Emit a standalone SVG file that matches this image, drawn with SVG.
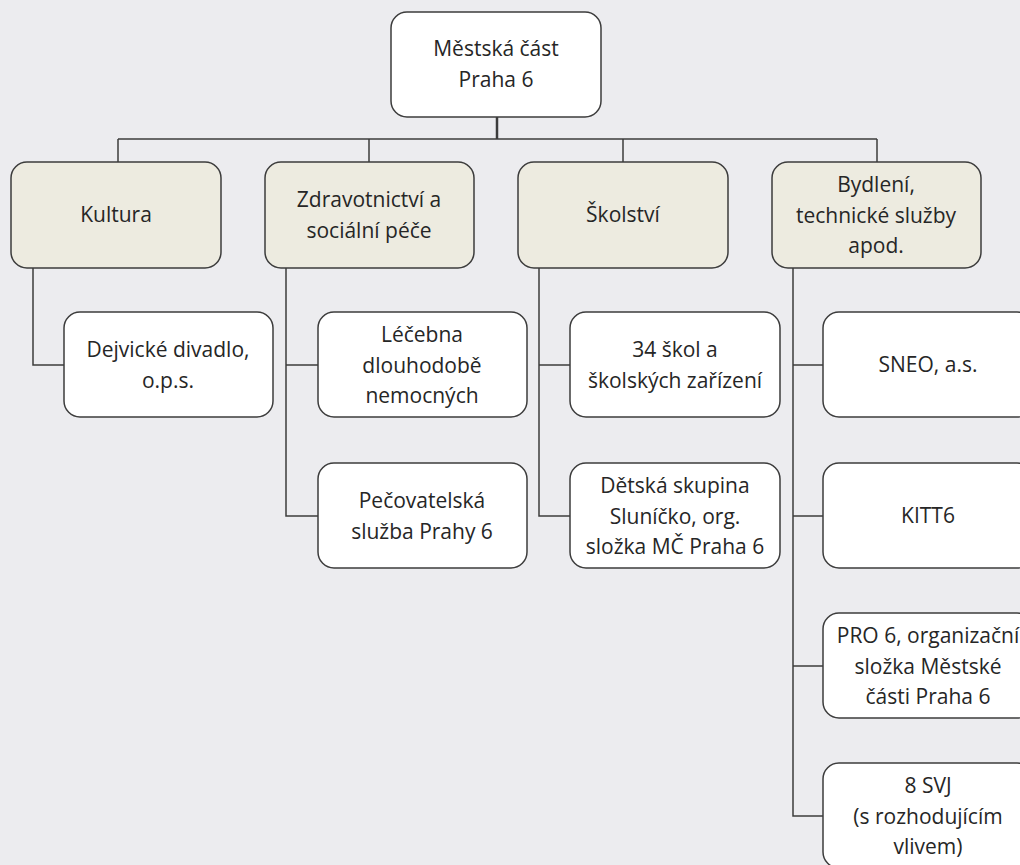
<svg xmlns="http://www.w3.org/2000/svg" width="1020" height="865" viewBox="0 0 1020 865">
<style>
.bg{fill:#ECECEF}
.n rect{stroke:#3C3C3C;stroke-width:1.5}
.w rect{fill:#FFFFFF}
.b rect{fill:#EDEBE0}
text{font-family:"Open Sans","Liberation Sans",sans-serif;font-size:21px;fill:#262626;text-anchor:middle}
.c path{fill:none;stroke:#3C3C3C;stroke-width:1.5}
.c path.m{stroke-width:2.5}
</style>
<rect class="bg" x="0" y="0" width="1020" height="865"/>
<g class="c" id="connectors">
<path class="m" d="M497,117 V139"/>
<path d="M118,139 H877 M118,139 V162 M369,139 V162 M623,139 V162 M877,139 V162"/>
<path d="M33,268 V365 H64"/>
<path d="M286,268 V516 H318 M286,365 H318"/>
<path d="M539,268 V516 H570 M539,365 H570"/>
<path d="M793,268 V816 H823 M793,365 H823 M793,516 H823 M793,666 H823"/>
</g>
<g class="n w" id="root"><rect x="391" y="12" width="210" height="105" rx="16"/><text x="496" y="56">Městská část</text><text x="496" y="87">Praha 6</text></g>
<g class="n b" id="kultura"><rect x="11" y="162" width="210" height="106" rx="16"/><text x="116" y="222">Kultura</text></g>
<g class="n b" id="zdravotnictvi"><rect x="265" y="162" width="209" height="106" rx="16"/><text x="369" y="207">Zdravotnictví a</text><text x="369" y="238">sociální péče</text></g>
<g class="n b" id="skolstvi"><rect x="518" y="162" width="210" height="106" rx="16"/><text x="623" y="222">Školství</text></g>
<g class="n b" id="bydleni"><rect x="772" y="162" width="209" height="106" rx="16"/><text x="876" y="192">Bydlení,</text><text x="876" y="223">technické služby</text><text x="876" y="253">apod.</text></g>
<g class="n w" id="divadlo"><rect x="64" y="312" width="209" height="105" rx="16"/><text x="168" y="357">Dejvické divadlo,</text><text x="168" y="388">o.p.s.</text></g>
<g class="n w" id="lecebna"><rect x="318" y="312" width="209" height="105" rx="16"/><text x="422" y="342">Léčebna</text><text x="422" y="373">dlouhodobě</text><text x="422" y="403">nemocných</text></g>
<g class="n w" id="pecovatelska"><rect x="318" y="463" width="209" height="105" rx="16"/><text x="422" y="508">Pečovatelská</text><text x="422" y="539">služba Prahy 6</text></g>
<g class="n w" id="skoly"><rect x="570" y="312" width="210" height="105" rx="16"/><text x="675" y="357">34 škol a</text><text x="675" y="388">školských zařízení</text></g>
<g class="n w" id="detska"><rect x="570" y="463" width="210" height="105" rx="16"/><text x="675" y="493">Dětská skupina</text><text x="675" y="524">Sluníčko, org.</text><text x="675" y="554">složka MČ Praha 6</text></g>
<g class="n w" id="sneo"><rect x="823" y="312" width="210" height="105" rx="16"/><text x="928" y="372">SNEO, a.s.</text></g>
<g class="n w" id="kitt6"><rect x="823" y="463" width="210" height="105" rx="16"/><text x="928" y="523">KITT6</text></g>
<g class="n w" id="pro6"><rect x="823" y="613" width="210" height="105" rx="16"/><text x="928" y="643">PRO 6, organizační</text><text x="928" y="674">složka Městské</text><text x="928" y="704">části Praha 6</text></g>
<g class="n w" id="svj"><rect x="823" y="763" width="210" height="105" rx="16"/><text x="928" y="793">8 SVJ</text><text x="928" y="824">(s rozhodujícím</text><text x="928" y="854">vlivem)</text></g>
</svg>
